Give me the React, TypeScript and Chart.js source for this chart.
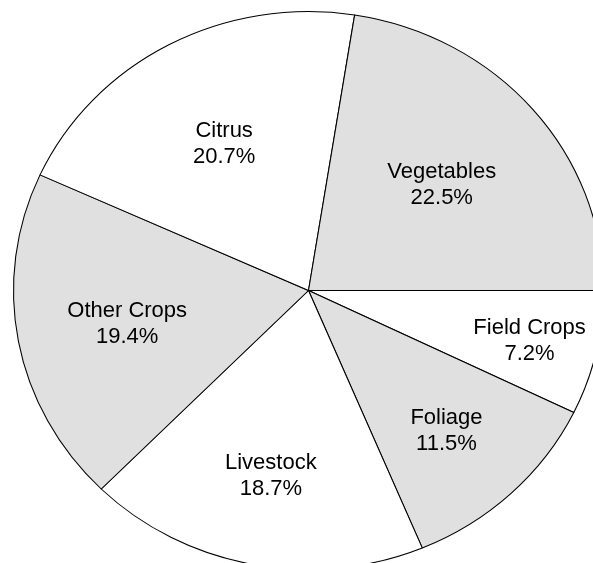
import React, { useEffect, useRef } from "react";
import { Chart, registerables } from "chart.js";

Chart.register(...registerables);

// ---- data (counter-clockwise order starting at 3 o'clock) ----
const categories = ["Vegetables", "Citrus", "Other Crops", "Livestock", "Foliage", "Field Crops"];
const shares = [22.5, 20.7, 19.4, 18.7, 11.5, 7.2];
const shaded = [true, false, true, false, true, false];

// ---- layout / style ----
const W = 593;
const H = 563;
const RADIUS = 279;
const X_STRETCH = 295 / 279;
const LABEL_RADIUS = [0.594, 0.604, 0.625, 0.67, 0.681, 0.769];
const GRAY = "#e0e0e0";
const FONT = "22px 'Liberation Sans', Arial, sans-serif";

export default function App() {
  const ref = useRef<HTMLCanvasElement | null>(null);

  useEffect(() => {
    const canvas = ref.current;
    if (!canvas) return;
    const n = categories.length;
    // Chart.js draws clockwise, so reverse to get the counter-clockwise layout
    const labels = [...categories].reverse();
    const values = [...shares].reverse();
    const colors = [...shaded].reverse().map((s) => (s ? GRAY : "#ffffff"));

    const ellipsePlugin = {
      id: "ellipse",
      beforeDatasetsDraw(chart: any) {
        const arc = chart.getDatasetMeta(0).data[0];
        if (!arc) return;
        const ctx = chart.ctx;
        ctx.save();
        ctx.translate(arc.x, arc.y);
        ctx.scale(X_STRETCH, 1);
        ctx.translate(-arc.x, -arc.y);
      },
      afterDatasetsDraw(chart: any) {
        const ctx = chart.ctx;
        ctx.restore();
        const arcs = chart.getDatasetMeta(0).data;
        ctx.save();
        ctx.fillStyle = "#000000";
        ctx.font = FONT;
        ctx.textAlign = "center";
        ctx.textBaseline = "alphabetic";
        arcs.forEach((a: any, i: number) => {
          const orig = n - 1 - i;
          const mid = (a.startAngle + a.endAngle) / 2;
          const r = a.outerRadius * LABEL_RADIUS[orig];
          const x = a.x + Math.cos(mid) * r * X_STRETCH;
          const y = a.y + Math.sin(mid) * r;
          ctx.fillText(categories[orig], x, y - 5);
          ctx.fillText(shares[orig].toFixed(1) + "%", x, y + 21);
        });
        ctx.restore();
      },
    };

    const chart = new Chart(canvas, {
      type: "pie",
      data: {
        labels,
        datasets: [
          {
            data: values,
            backgroundColor: colors,
            borderColor: "#000000",
            borderWidth: 1,
            clip: false as any,
          } as any,
        ],
      },
      options: {
        responsive: false,
        animation: false,
        rotation: 90,
        radius: RADIUS,
        layout: { padding: { left: 24, right: 0, top: 18, bottom: 0 } },
        plugins: {
          legend: { display: false },
          tooltip: { enabled: false },
        },
        events: [],
      } as any,
      plugins: [ellipsePlugin],
    });
    return () => chart.destroy();
  }, []);

  return (
    <canvas
      ref={ref}
      width={W}
      height={H}
      style={{ position: "fixed", left: 0, top: 0, width: W, height: H, background: "#ffffff" }}
    />
  );
}
